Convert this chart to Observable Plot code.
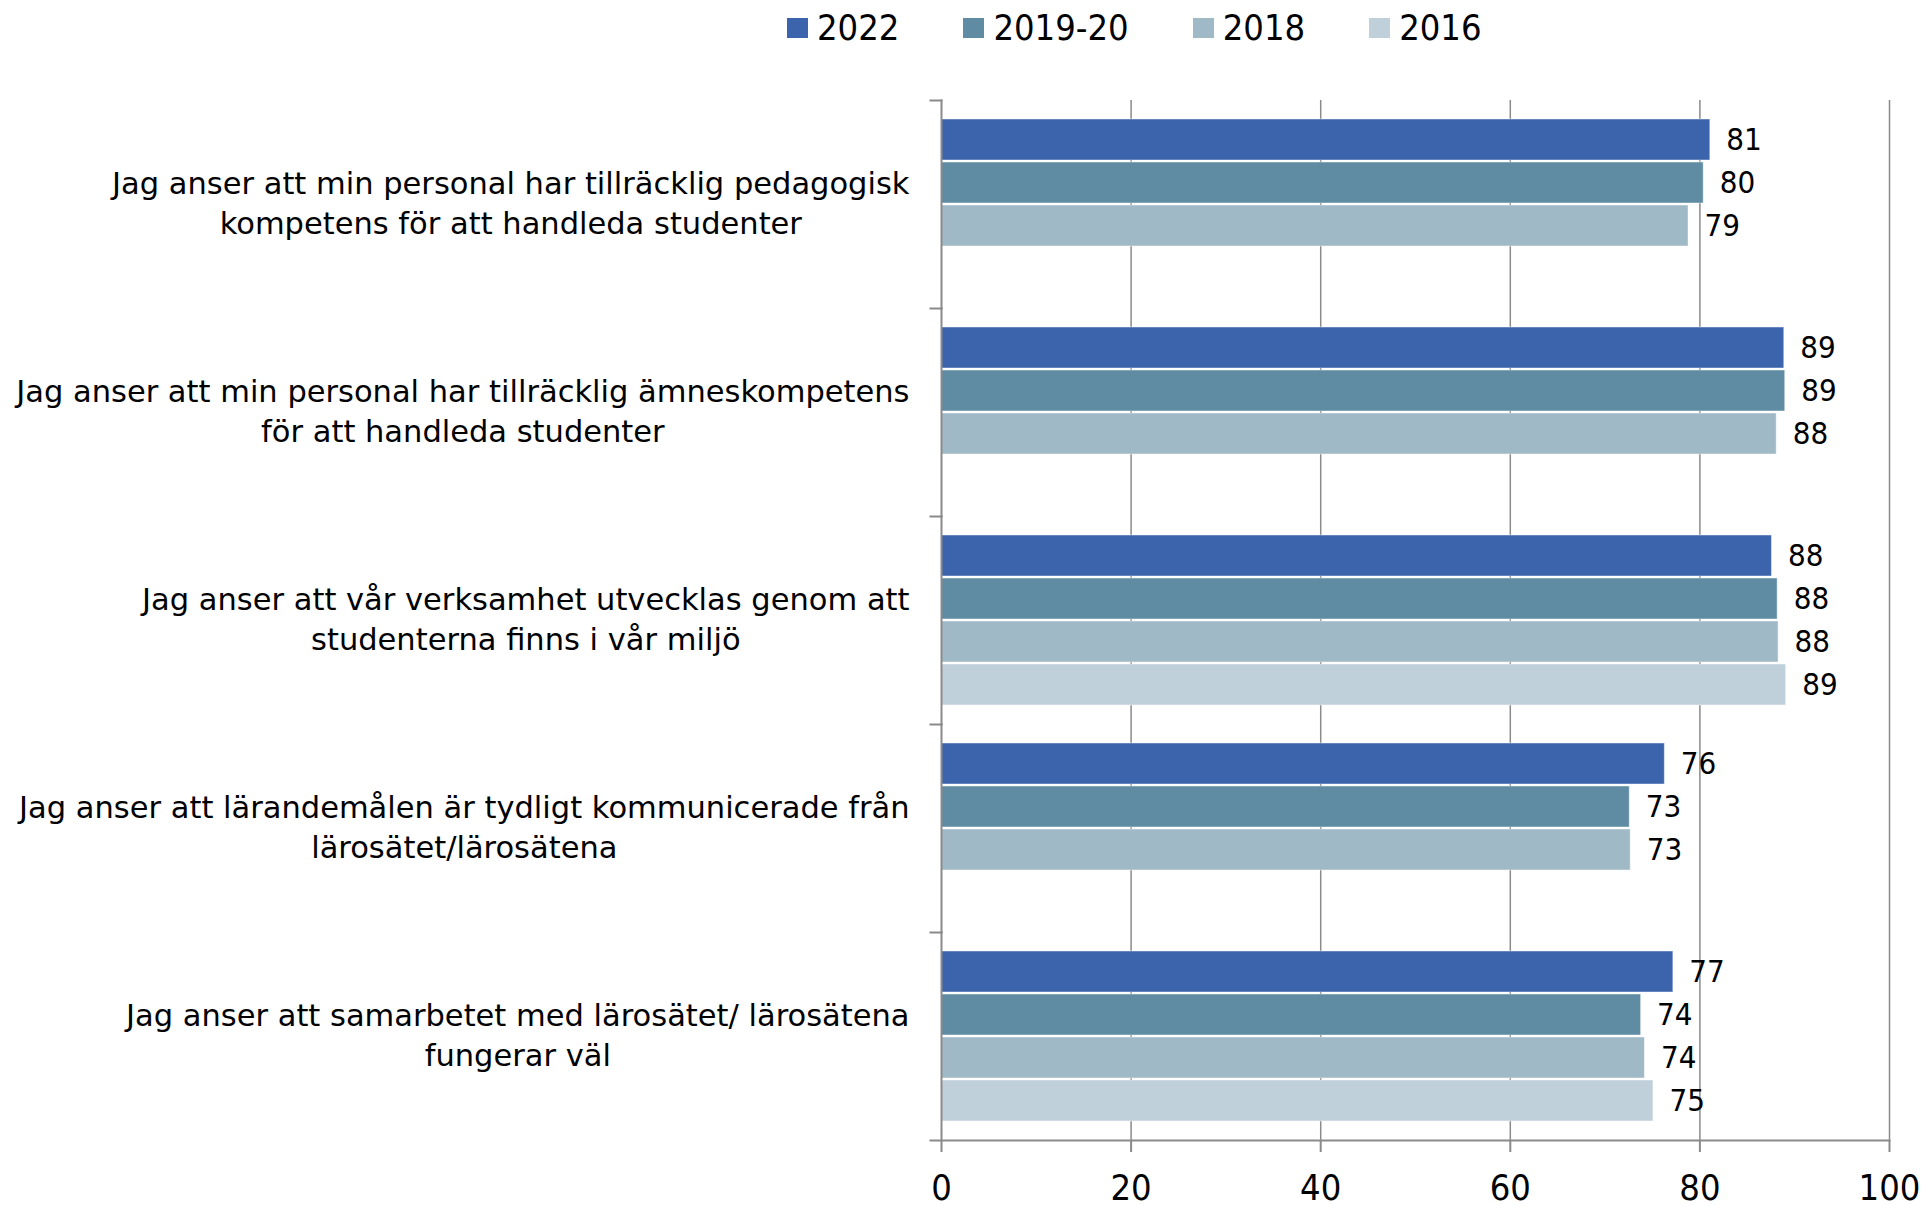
<!DOCTYPE html>
<html>
<head>
<meta charset="utf-8">
<script src="https://cdn.jsdelivr.net/npm/d3@7"></script>
<script src="https://cdn.jsdelivr.net/npm/@observablehq/plot@0.6"></script>
<style>
  html, body { margin: 0; padding: 0; background: #fff; }
  body { width: 1926px; height: 1206px; overflow: hidden;
         font-family: "DejaVu Sans Condensed", "DejaVu Sans", sans-serif; font-stretch: condensed; }
  #legend { position: relative; height: 60px; }
  #legend div.lg-swatches { position: absolute; left: 787px; top: 7px; margin: 0;
         font-family: "DejaVu Sans Condensed", "DejaVu Sans", sans-serif; font-stretch: condensed;
         font-size: 36px; color: #000; display: flex; flex-wrap: nowrap; align-items: center; }
  #legend span.lg-swatch { margin-right: 64px; display: inline-flex; align-items: center; }
  #legend span.lg-swatch > svg { margin-right: 9px; }
  svg text { font-stretch: condensed; }
  svg text.catlabel, svg g.catlabel text { font-stretch: normal; }
</style>
</head>
<body>
<div id="legend"></div>
<script>
// ---- data ----
const categories = [
  "Jag anser att min personal har tillräcklig pedagogisk kompetens för att handleda studenter",
  "Jag anser att min personal har tillräcklig ämneskompetens för att handleda studenter",
  "Jag anser att vår verksamhet utvecklas genom att studenterna finns i vår miljö",
  "Jag anser att lärandemålen är tydligt kommunicerade från lärosätet/lärosätena",
  "Jag anser att samarbetet med lärosätet/ lärosätena fungerar väl"
];
const categoryLabels = [
  "Jag anser att min personal har tillräcklig pedagogisk\nkompetens för att handleda studenter",
  "Jag anser att min personal har tillräcklig ämneskompetens\nför att handleda studenter",
  "Jag anser att vår verksamhet utvecklas genom att\nstudenterna finns i vår miljö",
  "Jag anser att lärandemålen är tydligt kommunicerade från\nlärosätet/lärosätena",
  "Jag anser att samarbetet med lärosätet/ lärosätena\nfungerar väl"
];
const years = ["2022", "2019-20", "2018", "2016"];
const colors = ["#3c64ac", "#5f8ca3", "#9fb9c7", "#bfd0da"];
const values2022 = [81.1, 88.9, 87.6, 76.3, 77.2];
const values2019 = [80.4, 89.0, 88.2, 72.6, 73.8];
const values2018 = [78.8, 88.1, 88.3, 72.7, 74.2];
const values2016 = [null, null, 89.1, null, 75.1];
const xTicks = [0, 20, 40, 60, 80, 100];
const gridTicks = [20, 40, 60, 80, 100];

// ---- table ----
const series = [values2022, values2019, values2018, values2016];
const rows = [];
years.forEach((yr, j) => {
  categories.forEach((c, i) => {
    const v = series[j][i];
    if (v != null) rows.push({category: c, year: yr, value: v});
  });
});

const W = 1926, H = 1146, mL = 941, mR = 37, mT = 39, mB = 66;
const FONT = '"DejaVu Sans Condensed", "DejaVu Sans", sans-serif';
const CATFONT = '"DejaVu Sans", sans-serif';
const CATSIZE = 30.5;
const AX = "#8a8a8a";

// measure widest line of each category label
const ctx = document.createElement("canvas").getContext("2d");
ctx.font = CATSIZE + 'px ' + CATFONT;
const labelWidths = categoryLabels.map(t => Math.max(...t.split("\n").map(s => ctx.measureText(s).width)));

const labelMarks = categories.map((c, i) =>
  Plot.text([c], {
    fy: d => d,
    frameAnchor: "left",
    text: () => categoryLabels[i],
    textAnchor: "middle",
    lineHeight: 1.3,
    fontSize: CATSIZE,
    fontFamily: CATFONT,
    className: "catlabel",
    fill: "#000",
    dx: -(32 + labelWidths[i] / 2),
    dy: -3
  })
);

const plot = Plot.plot({
  width: W, height: H,
  marginLeft: mL, marginRight: mR, marginTop: mT, marginBottom: mB,
  style: {fontFamily: FONT, fontSize: "36px", color: "#000", background: "#fff", overflow: "visible"},
  x: {domain: [0, 100], axis: null, label: null},
  y: {domain: years, paddingInner: 0.055, paddingOuter: 0.4, axis: null},
  fy: {domain: categories, padding: 0, axis: null},
  color: {domain: years, range: colors},
  marks: [
    Plot.gridX(gridTicks, {stroke: AX, strokeOpacity: 1, strokeWidth: 1.5}),
    Plot.barX(rows, {fy: "category", y: "year", x: "value", fill: "year",
                     stroke: "#ffffff", strokeOpacity: 0.45, strokeWidth: 1}),
    Plot.text(rows, {fy: "category", y: "year", x: "value",
                     text: d => String(Math.round(d.value)),
                     textAnchor: "start", dx: 16, fontSize: 31, fill: "#000"}),
    Plot.frame({anchor: "left", stroke: AX, strokeWidth: 2}),
    Plot.frame({anchor: "top", insetLeft: -11, insetRight: W - mL - mR, stroke: AX, strokeWidth: 2}),
    Plot.frame({anchor: "bottom", facetAnchor: "bottom", insetLeft: -11, stroke: AX, strokeWidth: 2}),
    Plot.axisX(xTicks, {anchor: "bottom", facetAnchor: "bottom", tickSize: 12, tickPadding: 22, label: null,
                        stroke: AX, strokeWidth: 2, fill: "#000", fontSize: 36}),
    ...labelMarks
  ]
});

const legend = plot.legend("color", {className: "lg", swatchWidth: 21, swatchHeight: 20});
document.getElementById("legend").appendChild(legend);
document.body.appendChild(plot);
</script>
</body>
</html>
